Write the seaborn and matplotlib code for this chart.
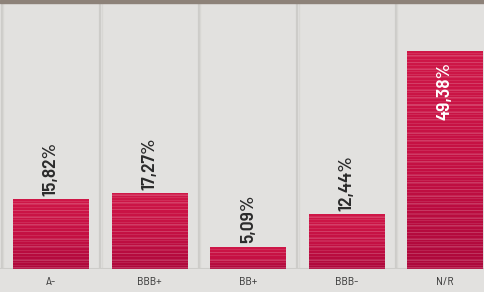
import numpy as np
import pandas as pd
import matplotlib
matplotlib.use("Agg")
import matplotlib.pyplot as plt
import seaborn as sns
from matplotlib.colors import LinearSegmentedColormap

ratings = ["A-", "BBB+", "BB+", "BBB-", "N/R"]
shares = [15.82, 17.27, 5.09, 12.44, 49.38]
labels = ["15,82%", "17,27%", "5,09%", "12,44%", "49,38%"]

df = pd.DataFrame({"rating": ratings, "share": shares})

sns.set_theme(style="white")
plt.rcParams["font.family"] = ["Barlow Semi Condensed", "DejaVu Sans"]

fig = plt.figure(figsize=(4.85, 2.92), dpi=100)
fig.patch.set_facecolor("#e2e1df")
ax = fig.add_axes([0, 23 / 292, 1, 266 / 292])
ax.set_facecolor("#e2e1df")

sns.barplot(data=df, x="rating", y="share", ax=ax, width=0.77,
            color="#c8103f", saturation=1, edgecolor="none", zorder=2)

ax.set_xlim(-0.52, 4.404)
ax.set_ylim(0, 60.25)

# gradient + stripes inside each bar
cmap = LinearSegmentedColormap.from_list("red", ["#a8063a", "#c41043", "#d01848"])
for p, v in zip(ax.patches, shares):
    n = max(int(v * 4.4), 4)
    grad = np.linspace(0, 1, n) * 0.85 + 0.1
    stripes = np.zeros(n)
    stripes[::3] = 0.1
    stripes[1::7] = 0.18
    rgba = cmap(grad)[:, None, :].copy()
    rgba[:, 0, :3] = rgba[:, 0, :3] + (1 - rgba[:, 0, :3]) * stripes[:, None]
    x0, y0 = p.get_x(), p.get_y()
    w, h = p.get_width(), p.get_height()
    im = ax.imshow(rgba, extent=[x0, x0 + w, y0, y0 + h], origin="lower",
                   aspect="auto", interpolation="nearest", zorder=3)
    im.set_clip_path(p)

# separators between categories
for b in np.arange(-0.5, len(ratings) + 0.5, 1.0):
    ax.axvline(b, color="#cdccc9", lw=1.6, zorder=1)
    ax.axvline(b + 0.012, color="#d8d7d4", lw=1.0, zorder=1)
ax.axhline(0, color="#cdccc9", lw=1.5, zorder=1)

# value labels
for i, (v, t) in enumerate(zip(shares, labels)):
    if v > 40:
        ax.text(i, v - 2.5, t, rotation=90, ha="center", va="top",
                color="white", fontsize=14, fontweight="semibold", zorder=5)
    else:
        ax.text(i, v + 0.7, t, rotation=90, ha="center", va="bottom",
                color="#2b2b2b", fontsize=14, fontweight="semibold", zorder=5)

ax.set_xlabel("")
ax.set_ylabel("")
ax.set_yticks([])
ax.tick_params(axis="x", length=0, pad=6, labelsize=8.5, labelcolor="#3a3a3a")
for s in ax.spines.values():
    s.set_visible(False)

fig.add_artist(plt.Rectangle((0, 289 / 292), 1, 3 / 292, transform=fig.transFigure,
                             color="#8d8279", zorder=10))

fig.savefig("out.png", dpi=100, facecolor=fig.get_facecolor())
